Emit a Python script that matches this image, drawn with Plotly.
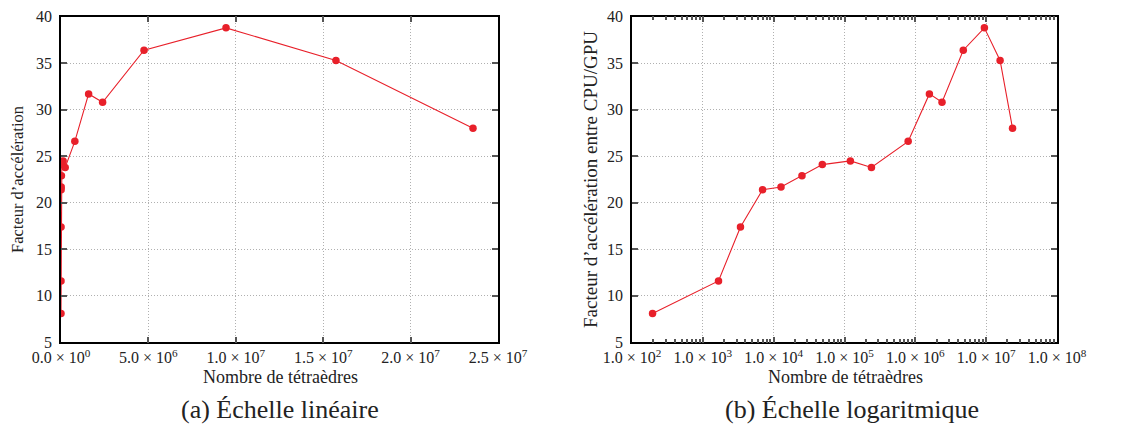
import plotly.graph_objects as go

# Data
tetraedres = [195, 1665, 3400, 6970, 12700, 25100, 48600, 121000, 240000,
              792000, 1.58e6, 2.38e6, 4.75e6, 9.44e6, 1.573e7, 2.357e7]
acceleration = [8.1, 11.6, 17.4, 21.4, 21.7, 22.9, 24.1, 24.5, 23.8,
                26.6, 31.7, 30.8, 36.4, 38.8, 35.3, 28.0]

y_ticks = [5, 10, 15, 20, 25, 30, 35, 40]
lin_x_ticks = [0, 5e6, 1e7, 1.5e7, 2e7, 2.5e7]
lin_x_labels = ["0.0 × 10<sup>0</sup>", "5.0 × 10<sup>6</sup>", "1.0 × 10<sup>7</sup>",
                "1.5 × 10<sup>7</sup>", "2.0 × 10<sup>7</sup>", "2.5 × 10<sup>7</sup>"]
log_x_ticks = [1e2, 1e3, 1e4, 1e5, 1e6, 1e7, 1e8]
log_x_labels = ["1.0 × 10<sup>%d</sup>" % e for e in range(2, 9)]

x_title = "Nombre de tétraèdres"
y_title_a = "Facteur d’accélération"
y_title_b = "Facteur d’accélération entre CPU/GPU"
caption_a = "(a) Échelle linéaire"
caption_b = "(b) Échelle logaritmique"

RED = "#e8202a"
FONT = "Liberation Serif, Times New Roman, DejaVu Serif, serif"
W, H = 1146, 429

fig = go.Figure()
for xa, ya in (("x", "y"), ("x2", "y2")):
    fig.add_trace(go.Scatter(
        x=tetraedres, y=acceleration, mode="lines+markers",
        line=dict(color=RED, width=1.1),
        marker=dict(color=RED, size=7.5),
        xaxis=xa, yaxis=ya, showlegend=False))

common_axis = dict(
    showline=True, linecolor="black", linewidth=1.5, mirror="ticks",
    ticks="inside", ticklen=6, tickcolor="#555555", tickwidth=1.5,
    showgrid=True, gridcolor="#b0b0b0", griddash="1px,2px", gridwidth=1,
    zeroline=False, automargin=False,
    tickfont=dict(family=FONT, size=16, color="#222222"),
)

ydom = [1 - 342.3 / H, 1 - 16.7 / H]


def px(x):
    return x / W


def py(y):
    return 1 - y / H


fig.update_layout(
    width=W, height=H,
    margin=dict(l=0, r=0, t=0, b=0, autoexpand=False),
    paper_bgcolor="white", plot_bgcolor="white",
    font=dict(family=FONT, color="#222222"),
    xaxis=dict(domain=[px(61), px(498)], range=[0, 2.5e7],
               tickvals=lin_x_ticks, ticktext=lin_x_labels,
               anchor="y", **common_axis),
    yaxis=dict(domain=ydom, range=[5, 40], tickvals=y_ticks,
               ticklabelstandoff=4, anchor="x", **common_axis),
    xaxis2=dict(domain=[px(632), px(1057)], type="log", range=[2, 8],
                tickvals=log_x_ticks, ticktext=log_x_labels,
                minor=dict(ticks="inside", ticklen=4, tickcolor="#555555",
                           dtick="D1", showgrid=False),
                anchor="y2", **common_axis),
    yaxis2=dict(domain=ydom, range=[5, 40], tickvals=y_ticks,
                ticklabelstandoff=4, anchor="x2", **common_axis),
)

xt_font = dict(family=FONT, size=18, color="#222222")
ya_font = dict(family=FONT, size=16.5, color="#222222")
yb_font = dict(family=FONT, size=19, color="#222222")
cap_font = dict(family=FONT, size=26, color="#222222")
annots = [
    dict(text=x_title, x=px(280), y=py(377), font=xt_font),
    dict(text=x_title, x=px(845), y=py(377), font=xt_font),
    dict(text=y_title_a, x=px(17), y=py(180), textangle=-90, font=ya_font),
    dict(text=y_title_b, x=px(590), y=py(180), textangle=-90, font=yb_font),
    dict(text=caption_a, x=px(280), y=py(409), font=cap_font),
    dict(text=caption_b, x=px(852), y=py(409), font=cap_font),
]
for a in annots:
    a.update(xref="paper", yref="paper", showarrow=False,
             xanchor="center", yanchor="middle")
fig.update_layout(annotations=annots)

fig.write_html("out.html", config={"displayModeBar": False},
               post_script="document.body.style.margin='0';document.body.style.overflow='hidden';")
